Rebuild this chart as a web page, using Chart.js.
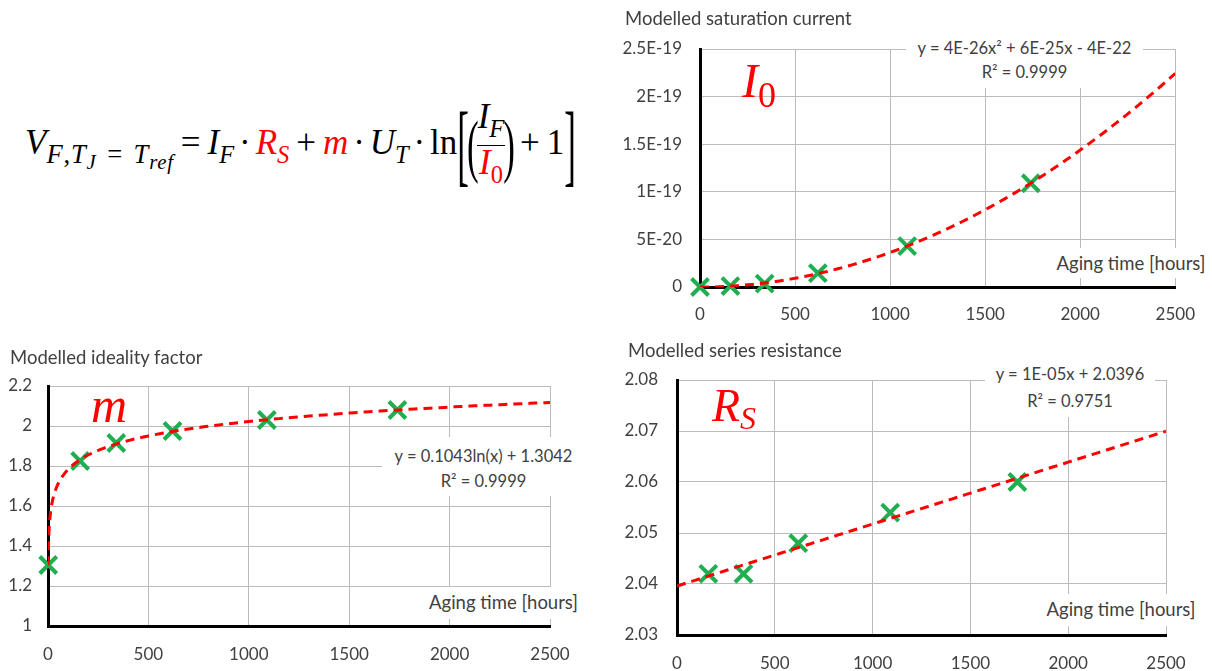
<!DOCTYPE html>
<html>
<head>
<meta charset="utf-8">
<script src="https://cdn.jsdelivr.net/npm/chart.js"></script>
<style>
body { margin: 0; width: 1212px; height: 671px; background: #fff; position: relative; overflow: hidden; font-family: Lato, sans-serif; color: #404040; }
canvas { position: absolute; }
.title { position: absolute; font-size: 18.5px; line-height: 22px; white-space: nowrap; }
.fit { position: absolute; background: #fff; font-size: 16.5px; text-align: center; white-space: nowrap; }
.axt { position: absolute; background: #fff; font-size: 18.5px; line-height: 30px; text-align: center; white-space: nowrap; }
.sym { position: absolute; color: #f00; font-family: 'Liberation Serif', serif; font-style: italic; line-height: 1; white-space: nowrap; }
.sym .up { font-style: normal; position: relative; }
#eq { position: absolute; left: 25px; top: 95px; height: 96px; line-height: 96px; font-family: 'Liberation Serif', serif; font-size: 35px; color: #000; white-space: nowrap; }
#eq .vsb { font-size: 0.76em; vertical-align: -0.35em; letter-spacing: 0.8px; }
#eq .sb { font-size: 0.7em; vertical-align: -0.35em; }
#eq .sb2 { font-size: 0.78em; vertical-align: -0.3em; }
#eq .eqs { margin: 0 0.4em; }
#eq .op { margin: 0 0.2em; }
#eq .dot { margin: 0 0.14em; }
#eq .red { color: #f00; }
#eq .bk { display: inline-block; line-height: 35px; transform: scale(1, 2.6); vertical-align: middle; }
#eq .pr { display: inline-block; line-height: 35px; transform: scale(1, 2.0); vertical-align: middle; margin: 0 -2px; }
#eq .frac { display: inline-block; line-height: 33px; text-align: center; vertical-align: -20px; }
#eq .num { display: block; border-bottom: 1.5px solid #000; padding: 0 1px; }
#eq .den { display: block; padding: 0 1px; }
</style>
</head>
<body>

<div id="eq"><i>V</i><span class="vsb"><i>F</i>,<i>T</i><span class="sb2"><i>J</i></span><span class="eqs">=</span><i>T</i><span class="sb2"><i>ref</i></span></span><span class="op">=</span><i>I</i><span class="sb"><i>F</i></span><span class="dot">·</span><span class="red"><i>R</i><span class="sb"><i>S</i></span></span><span class="op">+</span><i class="red">m</i><span class="dot">·</span><i>U</i><span class="sb"><i>T</i></span><span class="dot">·</span>ln<span class="bk">[</span><span class="pr">(</span><span class="frac"><span class="num"><i>I</i><span class="sb"><i>F</i></span></span><span class="den red"><i>I</i><span class="sb">0</span></span></span><span class="pr">)</span><span class="op">+</span>1<span class="bk">]</span></div>

<canvas id="chartSat" width="612" height="330" style="left:600px;top:0px"></canvas>
<canvas id="chartIdeal" width="600" height="341" style="left:0px;top:330px"></canvas>
<canvas id="chartRes" width="612" height="341" style="left:600px;top:330px"></canvas>

<!-- saturation current -->
<div class="title" style="left:625px;top:7px">Modelled saturation current</div>
<div class="fit" style="left:906px;top:36px;width:237px;height:52px;line-height:24px">y = 4E-26x² + 6E-25x - 4E-22<br>R² = 0.9999</div>
<div class="axt" style="left:1050px;top:248px;width:162px;height:30px">Aging time [hours]</div>
<div class="sym" style="left:742px;top:57px;font-size:48px">I<span class="up" style="font-size:36px;top:10px">0</span></div>

<!-- ideality factor -->
<div class="title" style="left:10px;top:346px">Modelled ideality factor</div>
<div class="fit" style="left:382px;top:437px;width:203px;height:59px;line-height:25px;padding-top:7px;box-sizing:border-box">y = 0.1043ln(x) + 1.3042<br>R² = 0.9999</div>
<div class="axt" style="left:425px;top:587px;width:157px;height:32px">Aging time [hours]</div>
<div class="sym" style="left:91px;top:380px;font-size:50px">m</div>

<!-- series resistance -->
<div class="title" style="left:628px;top:339px">Modelled series resistance</div>
<div class="fit" style="left:985px;top:361px;width:170px;height:56px;line-height:27px">y = 1E-05x + 2.0396<br>R² = 0.9751</div>
<div class="axt" style="left:1040px;top:594px;width:162px;height:32px">Aging time [hours]</div>
<div class="sym" style="left:712px;top:383px;font-size:46px">R<span style="font-size:32px;position:relative;top:8px">S</span></div>

<script>
// measurement times [h] and fitted parameters
const satHours = [0, 160, 340, 620, 1090, 1740];
const satCurrent = [0, 1e-21, 3.5e-21, 1.45e-20, 4.3e-20, 1.09e-19];

const idealHours = [1, 160, 340, 620, 1090, 1740];
const idealFactor = [1.305, 1.825, 1.915, 1.975, 2.03, 2.08];

const resHours = [160, 340, 620, 1090, 1740];
const resistance = [2.042, 2.042, 2.048, 2.054, 2.06];

const hourTicks = [0, 500, 1000, 1500, 2000, 2500];
const hourLabels = ['0', '500', '1000', '1500', '2000', '2500'];
const satTicks = [0, 5e-20, 1e-19, 1.5e-19, 2e-19, 2.5e-19];
const satLabels = ['0', '5E-20', '1E-19', '1.5E-19', '2E-19', '2.5E-19'];
const idealTicks = [1, 1.2, 1.4, 1.6, 1.8, 2, 2.2];
const idealLabels = ['1', '1.2', '1.4', '1.6', '1.8', '2', '2.2'];
const resTicks = [2.03, 2.04, 2.05, 2.06, 2.07, 2.08];
const resLabels = ['2.03', '2.04', '2.05', '2.06', '2.07', '2.08'];

const GREEN = '#1fae50';
const RED = '#ff0000';
const GRID = '#bcbcbc';
const TXT = '#404040';

// least squares trendlines (same as the spreadsheet ones)
function linFit(xs, ys) {
	let n = xs.length, sx = 0, sy = 0, sxx = 0, sxy = 0;
	for (let i = 0; i < n; i++) {
		sx += xs[i]; sy += ys[i];
		sxx += xs[i] * xs[i]; sxy += xs[i] * ys[i];
	}
	const a = (n * sxy - sx * sy) / (n * sxx - sx * sx);
	return { a: a, b: (sy - a * sx) / n };
}

function quadFit(xs, ys) {
	// normal equations, solved with cramer
	let s = [0, 0, 0, 0, 0], t = [0, 0, 0];
	for (let i = 0; i < xs.length; i++) {
		for (let k = 0; k < 5; k++) s[k] += Math.pow(xs[i], k);
		for (let k = 0; k < 3; k++) t[k] += ys[i] * Math.pow(xs[i], k);
	}
	const M = [[s[0], s[1], s[2]], [s[1], s[2], s[3]], [s[2], s[3], s[4]]];
	const det = m => m[0][0] * (m[1][1] * m[2][2] - m[1][2] * m[2][1])
		- m[0][1] * (m[1][0] * m[2][2] - m[1][2] * m[2][0])
		+ m[0][2] * (m[1][0] * m[2][1] - m[1][1] * m[2][0]);
	const D = det(M);
	const col = j => M.map((row, r) => row.map((v, c) => c === j ? t[r] : v));
	return { c: det(col(0)) / D, b: det(col(1)) / D, a: det(col(2)) / D };
}

function toPoints(xs, ys) {
	return xs.map((x, i) => ({ x: x, y: ys[i] }));
}

function trendHours(from) {
	const xs = [];
	if (from > 0) {
		for (let x = from; x < 100; x *= 1.25) xs.push(x);
	}
	for (let x = from > 0 ? 100 : 0; x <= 2500; x += 25) xs.push(x);
	return xs;
}

const q = quadFit(satHours, satCurrent);
const satTrend = trendHours(0).map(x => ({ x: x, y: q.a * x * x + q.b * x + q.c }));

const lg = linFit(idealHours.map(Math.log), idealFactor);
const idealTrend = trendHours(1).map(x => ({ x: x, y: lg.a * Math.log(x) + lg.b }));

const ln = linFit(resHours, resistance);
const resTrend = trendHours(0).map(x => ({ x: x, y: ln.a * x + ln.b }));

function drawChart(id, points, trend, yTicks, yLabels, lay) {
	const ctx = document.getElementById(id);
	return new Chart(ctx, {
		type: 'scatter',
		data: {
			datasets: [{
				data: trend,
				showLine: true,
				borderColor: RED,
				borderWidth: 3,
				borderDash: [9, 6],
				pointRadius: 0,
				tension: 0
			}, {
				data: points,
				pointStyle: 'crossRot',
				pointRadius: 12,
				borderColor: GREEN,
				backgroundColor: GREEN,
				borderWidth: 4,
				clip: false
			}]
		},
		options: {
			responsive: false,
			animation: false,
			events: [],
			layout: { padding: { left: 0, right: lay.right, top: lay.top, bottom: 0 } },
			plugins: { legend: { display: false }, tooltip: { enabled: false } },
			scales: {
				x: {
					type: 'linear',
					min: 0,
					max: 2500,
					afterBuildTicks: s => { s.ticks = hourTicks.map(v => ({ value: v })); },
					afterFit: s => { s.height = lay.xh; },
					grid: { color: GRID, lineWidth: 1, drawTicks: false },
					border: { color: '#000', width: 3 },
					ticks: {
						padding: lay.xpad,
						color: TXT,
						autoSkip: false,
						maxRotation: 0,
						font: { family: 'Lato', size: 17 },
						callback: (v, i) => hourLabels[i]
					}
				},
				y: {
					min: yTicks[0],
					max: yTicks[yTicks.length - 1],
					afterBuildTicks: s => { s.ticks = yTicks.map(v => ({ value: v })); },
					afterFit: s => { s.width = lay.yw; },
					grid: { color: GRID, lineWidth: 1, drawTicks: false },
					border: { color: '#000', width: 3 },
					ticks: {
						padding: lay.ypad,
						color: TXT,
						autoSkip: false,
						font: { family: 'Lato', size: 17 },
						callback: (v, i) => yLabels[i]
					}
				}
			}
		}
	});
}

drawChart('chartSat', toPoints(satHours, satCurrent), satTrend, satTicks, satLabels,
	{ right: 35, top: 49, xh: 43, yw: 100, xpad: 17, ypad: 18 });
drawChart('chartIdeal', toPoints(idealHours, idealFactor), idealTrend, idealTicks, idealLabels,
	{ right: 50, top: 56, xh: 45, yw: 48, xpad: 18, ypad: 16 });
drawChart('chartRes', toPoints(resHours, resistance), resTrend, resTicks, resLabels,
	{ right: 46, top: 50, xh: 36, yw: 77, xpad: 18, ypad: 19 });
</script>
</body>
</html>
